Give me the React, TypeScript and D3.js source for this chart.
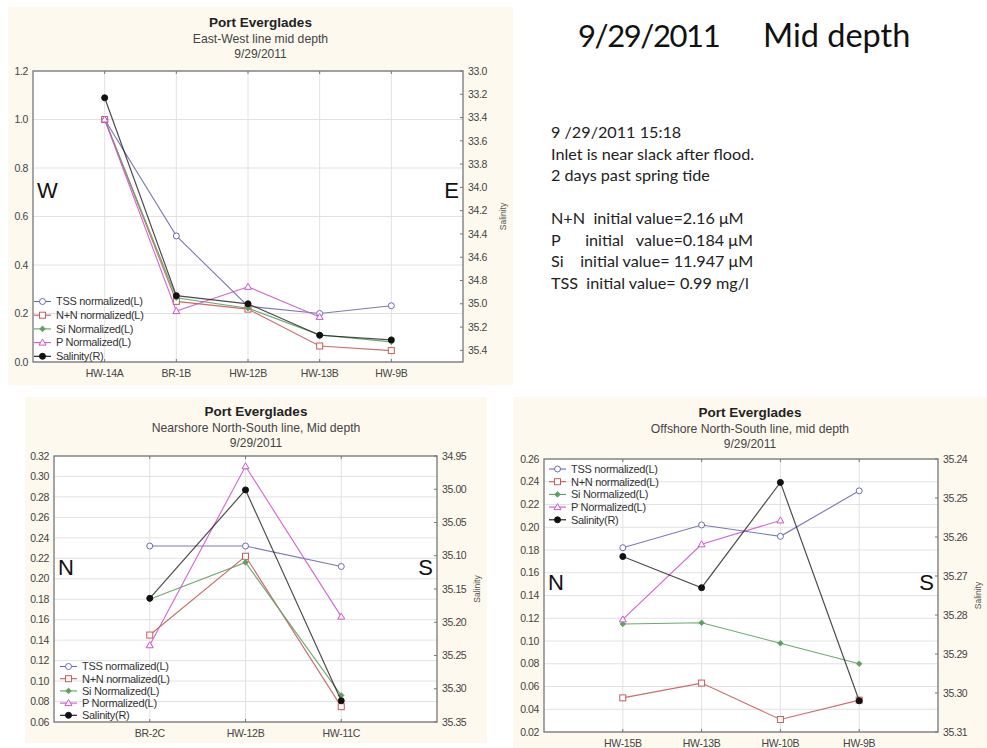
import React from "react";
import * as d3 from "d3";

// ---------- data ----------
const seriesNames = ["TSS normalized(L)", "N+N normalized(L)", "Si Normalized(L)", "P Normalized(L)", "Salinity(R)"];

const topCategories = ["HW-14A", "BR-1B", "HW-12B", "HW-13B", "HW-9B"];
const topTss = [1.0, 0.52, 0.23, 0.2, 0.232];
const topNN = [1.0, 0.25, 0.218, 0.066, 0.047];
const topSi = [1.0, 0.265, 0.222, 0.112, 0.083];
const topP: (number | null)[] = [1.0, 0.21, 0.31, 0.186, null];
const topSal = [33.23, 34.93, 35.0, 35.27, 35.31];
const topLeftTicks = [0, 0.2, 0.4, 0.6, 0.8, 1.0, 1.2];
const topRightTicks = [33.0, 33.2, 33.4, 33.6, 33.8, 34.0, 34.2, 34.4, 34.6, 34.8, 35.0, 35.2, 35.4];

const nsCategories = ["BR-2C", "HW-12B", "HW-11C"];
const nsTss = [0.232, 0.232, 0.212];
const nsNN = [0.145, 0.222, 0.075];
const nsSi = [0.18, 0.216, 0.086];
const nsP: (number | null)[] = [0.135, 0.31, 0.163];
const nsSal = [35.164, 35.001, 35.318];
const nsLeftTicks = [0.06, 0.08, 0.1, 0.12, 0.14, 0.16, 0.18, 0.2, 0.22, 0.24, 0.26, 0.28, 0.3, 0.32];
const nsRightTicks = [34.95, 35.0, 35.05, 35.1, 35.15, 35.2, 35.25, 35.3, 35.35];

const osCategories = ["HW-15B", "HW-13B", "HW-10B", "HW-9B"];
const osTss = [0.182, 0.202, 0.192, 0.232];
const osNN = [0.05, 0.063, 0.031, 0.048];
const osSi = [0.115, 0.116, 0.098, 0.08];
const osP: (number | null)[] = [0.119, 0.185, 0.206, null];
const osSal = [35.265, 35.273, 35.246, 35.302];
const osLeftTicks = [0.02, 0.04, 0.06, 0.08, 0.1, 0.12, 0.14, 0.16, 0.18, 0.2, 0.22, 0.24, 0.26];
const osRightTicks = [35.24, 35.25, 35.26, 35.27, 35.28, 35.29, 35.3, 35.31];

const headlineParts = ["9/29/2011", "Mid depth"];
const noteLines = [
  "9 /29/2011 15:18",
  "Inlet is near slack after flood.",
  "2 days past spring tide",
  "",
  "N+N  initial value=2.16 \u03bcM",
  "P      initial   value=0.184 \u03bcM",
  "Si    initial value= 11.947 \u03bcM",
  "TSS  initial value= 0.99 mg/l",
];

// ---------- styles ----------
const COLORS = ["#6a6ab4", "#c85c5c", "#5f9f5f", "#cc55cc", "#111111"];
const FONT = "'Liberation Sans', Arial, sans-serif";
const NOTE_FONT = "Lato, 'Open Sans', sans-serif";
const CREAM = "#fdf9ef";

type Marker = "circle" | "square" | "diamond" | "triangle" | "dot";
const MARKERS: Marker[] = ["circle", "square", "diamond", "triangle", "dot"];

function MarkerShape({ kind, x, y, color }: { kind: Marker; x: number; y: number; color: string }) {
  if (kind === "circle") return <circle cx={x} cy={y} r={3} fill="#fff" stroke={color} strokeWidth={1} />;
  if (kind === "square") return <rect x={x - 3} y={y - 3} width={6} height={6} fill="#fff" stroke={color} strokeWidth={1} />;
  if (kind === "diamond") return <path d={`M${x},${y - 2.8}L${x + 2.8},${y}L${x},${y + 2.8}L${x - 2.8},${y}Z`} fill={color} stroke={color} strokeWidth={0.8} />;
  if (kind === "triangle") return <path d={`M${x},${y - 3.5}L${x + 3.5},${y + 2.5}L${x - 3.5},${y + 2.5}Z`} fill="#fff" stroke={color} strokeWidth={1} />;
  return <circle cx={x} cy={y} r={3} fill={color} stroke={color} />;
}

interface ChartProps {
  panel: [number, number, number, number];
  plot: [number, number, number, number]; // left, top, right, bottom
  subtitle: string;
  categories: string[];
  left: (number | null)[][];
  sal: number[];
  leftTicks: number[];
  leftDomain: [number, number];
  leftFmt: string;
  rightTicks: number[];
  rightDomain: [number, number];
  rightFmt: string;
  legend: { x: number; y: number; dy: number };
  dirs: [string, string];
  dirY: number;
  titleY: number;
}

function Chart(p: ChartProps) {
  const [L, T, R, B] = p.plot;
  const x = d3.scaleLinear().domain([0, p.categories.length + 1]).range([L, R]);
  const yL = d3.scaleLinear().domain(p.leftDomain).range([B, T]);
  const yR = d3.scaleLinear().domain(p.rightDomain).range([T, B]);
  const fl = d3.format(p.leftFmt);
  const fr = d3.format(p.rightFmt);
  const [px, py, pw, ph] = p.panel;
  const cx = px + pw / 2;
  const allSeries: { vals: (number | null)[]; scale: (v: number) => number }[] = [
    ...p.left.map((vals) => ({ vals, scale: yL })),
    { vals: p.sal, scale: yR },
  ];
  return (
    <g>
      <rect x={px} y={py} width={pw} height={ph} fill={CREAM} />
      <text x={cx} y={p.titleY} textAnchor="middle" fontFamily={FONT} fontWeight="bold" fontSize={13.5} fill="#222">Port Everglades</text>
      <text x={cx} y={p.titleY + 16} textAnchor="middle" fontFamily={FONT} fontSize={12.2} fill="#444">{p.subtitle}</text>
      <text x={cx} y={p.titleY + 31} textAnchor="middle" fontFamily={FONT} fontSize={12} fill="#444">9/29/2011</text>
      <rect x={L} y={T} width={R - L} height={B - T} fill="#fff" />
      {p.leftTicks.map((t) => (
        <line key={"h" + t} x1={L} x2={R} y1={yL(t)} y2={yL(t)} stroke="#e2e2e2" strokeWidth={1} />
      ))}
      {p.categories.map((c, i) => (
        <line key={"v" + c} x1={x(i + 1)} x2={x(i + 1)} y1={T} y2={B} stroke="#e2e2e2" strokeWidth={1} />
      ))}
      {p.categories.map((c, i) => (
        <g key={"t" + c}>
          <line x1={x(i + 1)} x2={x(i + 1)} y1={T} y2={T + 3} stroke="#777" />
          <line x1={x(i + 1)} x2={x(i + 1)} y1={B} y2={B - 3} stroke="#777" />
        </g>
      ))}
      <rect x={L} y={T} width={R - L} height={B - T} fill="none" stroke="#777" strokeWidth={1.3} />
      {p.leftTicks.map((t) => (
        <text key={"lt" + t} x={L - 5} y={yL(t)} dy="0.35em" textAnchor="end" fontFamily={FONT} fontSize={10.5} fill="#444" letterSpacing={-0.4}>{fl(t)}</text>
      ))}
      {p.rightTicks.map((t) => (
        <g key={"rt" + t}>
          <line x1={R} x2={R - 3} y1={yR(t)} y2={yR(t)} stroke="#777" />
          <text x={R + 5} y={yR(t)} dy="0.35em" fontFamily={FONT} fontSize={10.5} fill="#444" letterSpacing={-0.4}>{fr(t)}</text>
        </g>
      ))}
      <text transform={`translate(${R + 43},${(T + B) / 2}) rotate(-90)`} textAnchor="middle" fontFamily={FONT} fontSize={8.5} fill="#555">Salinity</text>
      {p.categories.map((c, i) => (
        <text key={"xl" + c} x={x(i + 1)} y={B + 15} textAnchor="middle" fontFamily={FONT} fontSize={10.5} fill="#444" letterSpacing={-0.3}>{c}</text>
      ))}
      <text x={L + 4} y={p.dirY} dy="0.35em" fontFamily={FONT} fontSize={22} fill="#111">{p.dirs[0]}</text>
      <text x={R - 4} y={p.dirY} dy="0.35em" textAnchor="end" fontFamily={FONT} fontSize={22} fill="#111">{p.dirs[1]}</text>
      {allSeries.map((s, si) => {
        const pts = s.vals.map((v, i) => (v == null ? null : [x(i + 1), s.scale(v)] as [number, number]));
        const line = d3.line<[number, number] | null>().defined((d) => d != null).x((d) => d![0]).y((d) => d![1]);
        return (
          <g key={"s" + si}>
            <path d={line(pts) || ""} fill="none" stroke={COLORS[si]} strokeWidth={si === 4 ? 1.2 : 1.1} opacity={si === 4 ? 0.75 : 0.9} />
            {pts.map((pt, i) => (pt ? <MarkerShape key={i} kind={MARKERS[si]} x={pt[0]} y={pt[1]} color={COLORS[si]} /> : null))}
          </g>
        );
      })}
      {seriesNames.map((n, i) => {
        const ly = p.legend.y + i * p.legend.dy;
        return (
          <g key={"lg" + n}>
            <line x1={p.legend.x} x2={p.legend.x + 17} y1={ly} y2={ly} stroke={COLORS[i]} strokeWidth={1.1} />
            <MarkerShape kind={MARKERS[i]} x={p.legend.x + 8.5} y={ly} color={COLORS[i]} />
            <text x={p.legend.x + 22} y={ly} dy="0.35em" fontFamily={FONT} fontSize={11} fill="#333" letterSpacing={-0.3}>{n}</text>
          </g>
        );
      })}
    </g>
  );
}

export default function App() {
  return (
    <svg width={987} height={748} style={{ position: "absolute", left: 0, top: 0, background: "#fff" }}>
      <Chart
        panel={[8, 7, 505, 378]}
        plot={[33, 71, 463, 362]}
        subtitle="East-West line mid depth"
        categories={topCategories}
        left={[topTss, topNN, topSi, topP]}
        sal={topSal}
        leftTicks={topLeftTicks}
        leftDomain={[0, 1.2]}
        leftFmt=".1f"
        rightTicks={topRightTicks}
        rightDomain={[33.0, 35.5]}
        rightFmt=".1f"
        legend={{ x: 34, y: 301.5, dy: 13.7 }}
        dirs={["W", "E"]}
        dirY={190}
        titleY={27}
      />
      <Chart
        panel={[25, 397, 462, 346]}
        plot={[54, 456, 437, 722]}
        subtitle="Nearshore North-South line,  Mid depth"
        categories={nsCategories}
        left={[nsTss, nsNN, nsSi, nsP]}
        sal={nsSal}
        leftTicks={nsLeftTicks}
        leftDomain={[0.06, 0.32]}
        leftFmt=".2f"
        rightTicks={nsRightTicks}
        rightDomain={[34.95, 35.35]}
        rightFmt=".2f"
        legend={{ x: 60, y: 666.5, dy: 12.2 }}
        dirs={["N", "S"]}
        dirY={567}
        titleY={416}
      />
      <Chart
        panel={[513, 397, 474, 351]}
        plot={[544, 459, 938, 732]}
        subtitle="Offshore North-South line, mid depth"
        categories={osCategories}
        left={[osTss, osNN, osSi, osP]}
        sal={osSal}
        leftTicks={osLeftTicks}
        leftDomain={[0.02, 0.26]}
        leftFmt=".2f"
        rightTicks={osRightTicks}
        rightDomain={[35.24, 35.31]}
        rightFmt=".2f"
        legend={{ x: 549, y: 469, dy: 12.7 }}
        dirs={["N", "S"]}
        dirY={582}
        titleY={417}
      />
      <text x={578} y={47} fontFamily={NOTE_FONT} fontSize={31} fill="#111" letterSpacing={-1.4}>{headlineParts[0]}</text>
      <text x={763} y={47} fontFamily={NOTE_FONT} fontSize={32.5} fill="#111">{headlineParts[1]}</text>
      {noteLines.map((ln, i) => (
        <text key={i} x={551} y={138 + i * 21.5} fontFamily={NOTE_FONT} fontSize={16.2} fill="#222" style={{ whiteSpace: "pre" }} xmlSpace="preserve">{ln}</text>
      ))}
    </svg>
  );
}
